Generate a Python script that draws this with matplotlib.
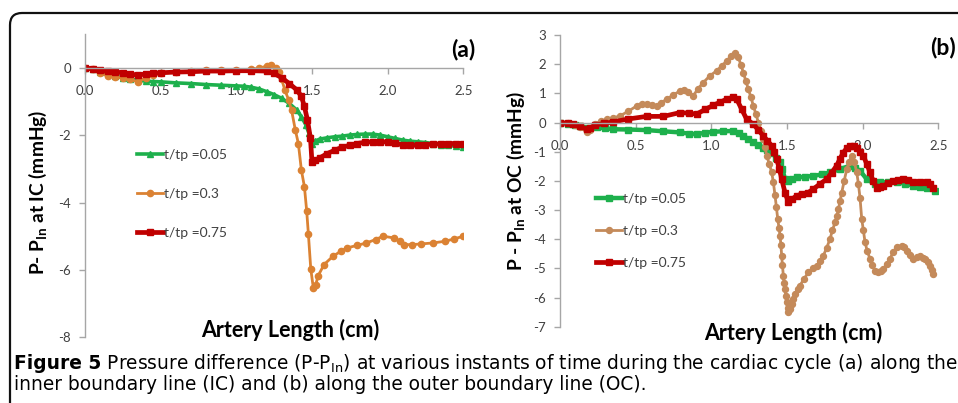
import matplotlib
matplotlib.use("Agg")
import matplotlib.pyplot as plt
from matplotlib.patches import FancyBboxPatch
from matplotlib.transforms import IdentityTransform

# ---------------- data ----------------
x_ticks = [0.0, 0.5, 1.0, 1.5, 2.0, 2.5]
x_ticklabels = ["0.0", "0.5", "1.0", "1.5", "2.0", "2.5"]
a_yticks = [-8, -6, -4, -2, 0]
b_yticks = [-7, -6, -5, -4, -3, -2, -1, 0, 1, 2, 3]
labels = ["t/tp =0.05", "t/tp =0.3", "t/tp =0.75"]

# Panel (a): inner boundary line (IC)
a_x_005 = [0, 0.05, 0.1, 0.15, 0.2, 0.25, 0.3, 0.35, 0.4, 0.45, 0.5, 0.6, 0.7, 0.8, 0.9, 1.0,
           1.05, 1.1, 1.15, 1.2, 1.25, 1.3, 1.35, 1.4, 1.43, 1.46, 1.48, 1.5, 1.52, 1.55, 1.6,
           1.65, 1.7, 1.75, 1.8, 1.85, 1.9, 1.95, 2.0, 2.05, 2.1, 2.15, 2.2, 2.25, 2.3, 2.35,
           2.4, 2.45, 2.5]
a_y_005 = [0, -0.05, -0.12, -0.2, -0.25, -0.3, -0.33, -0.37, -0.4, -0.41, -0.42, -0.45, -0.47,
           -0.5, -0.52, -0.54, -0.55, -0.58, -0.63, -0.71, -0.8, -0.91, -1.06, -1.26, -1.45,
           -1.7, -1.95, -2.25, -2.18, -2.12, -2.08, -2.05, -2.03, -2.0, -1.98, -1.97, -1.97,
           -2.0, -2.05, -2.1, -2.15, -2.18, -2.2, -2.22, -2.25, -2.28, -2.3, -2.33, -2.35]

a_x_03 = [0, 0.05, 0.1, 0.15, 0.2, 0.25, 0.3, 0.35, 0.4, 0.45, 0.5, 0.6, 0.7, 0.8, 0.9, 1.0,
          1.1, 1.15, 1.2, 1.23, 1.26, 1.28, 1.30, 1.32, 1.345, 1.365, 1.39, 1.41, 1.43, 1.45,
          1.465, 1.476, 1.492, 1.509, 1.525, 1.54, 1.58, 1.64, 1.69, 1.73, 1.8, 1.86, 1.92,
          1.97, 2.04, 2.08, 2.11, 2.16, 2.22, 2.3, 2.38, 2.44, 2.5]
a_y_03 = [0, -0.05, -0.15, -0.25, -0.28, -0.3, -0.35, -0.42, -0.3, -0.22, -0.17, -0.13, -0.1,
          -0.08, -0.07, -0.07, -0.04, -0.02, 0.05, 0.08, 0.0, -0.12, -0.35, -0.65, -0.95,
          -1.26, -1.85, -2.25, -3.04, -3.53, -4.25, -4.92, -5.97, -6.54, -6.44, -6.18, -5.84,
          -5.59, -5.45, -5.35, -5.27, -5.2, -5.1, -5.0, -5.05, -5.15, -5.25, -5.25, -5.23,
          -5.2, -5.15, -5.08, -5.0]

a_x_075 = [0, 0.05, 0.1, 0.15, 0.2, 0.25, 0.3, 0.35, 0.4, 0.45, 0.5, 0.6, 0.7, 0.8, 0.9, 1.0,
           1.1, 1.2, 1.25, 1.3, 1.35, 1.4, 1.43, 1.45, 1.47, 1.49, 1.5, 1.52, 1.55, 1.6, 1.65,
           1.7, 1.75, 1.8, 1.85, 1.9, 1.95, 2.0, 2.05, 2.1, 2.15, 2.2, 2.25, 2.3, 2.35, 2.4,
           2.45, 2.5]
a_y_075 = [0, -0.04, -0.08, -0.11, -0.13, -0.15, -0.18, -0.23, -0.18, -0.16, -0.15, -0.13,
           -0.12, -0.1, -0.1, -0.09, -0.09, -0.1, -0.17, -0.3, -0.47, -0.66, -0.85, -1.15,
           -1.55, -2.1, -2.8, -2.75, -2.68, -2.55, -2.45, -2.36, -2.3, -2.25, -2.21, -2.2,
           -2.2, -2.2, -2.23, -2.3, -2.3, -2.3, -2.28, -2.27, -2.26, -2.25, -2.25, -2.25]

# Panel (b): outer boundary line (OC)
b_x_005 = [0, 0.05, 0.1, 0.132, 0.176, 0.242, 0.3, 0.352, 0.45, 0.573, 0.68, 0.793, 0.85,
           0.903, 0.96, 1.013, 1.08, 1.146, 1.18, 1.212, 1.245, 1.278, 1.31, 1.344, 1.37,
           1.399, 1.43, 1.454, 1.47, 1.487, 1.509, 1.535, 1.564, 1.62, 1.674, 1.73, 1.784,
           1.85, 1.916, 1.95, 1.983, 2.027, 2.082, 2.115, 2.17, 2.225, 2.28, 2.335, 2.38,
           2.423, 2.478]
b_y_005 = [0, -0.04, -0.08, -0.11, -0.2, -0.17, -0.2, -0.23, -0.24, -0.26, -0.3, -0.34,
           -0.38, -0.4, -0.35, -0.32, -0.3, -0.29, -0.35, -0.46, -0.57, -0.68, -0.77, -0.86,
           -0.95, -1.03, -1.2, -1.37, -1.6, -1.94, -2.0, -1.93, -1.88, -1.86, -1.83, -1.78,
           -1.71, -1.6, -1.48, -1.55, -1.66, -1.94, -2.11, -2.05, -2.05, -2.05, -2.1, -2.17,
           -2.2, -2.23, -2.34]

b_x_03 = [0, 0.05, 0.1, 0.13, 0.176, 0.2, 0.231, 0.27, 0.308, 0.35, 0.397, 0.45, 0.507, 0.54,
          0.573, 0.61, 0.639, 0.67, 0.705, 0.75, 0.793, 0.82, 0.848, 0.881, 0.91, 0.947, 0.99,
          1.035, 1.07, 1.102, 1.13, 1.157, 1.179, 1.195, 1.212, 1.228, 1.245, 1.262, 1.278,
          1.295, 1.311, 1.328, 1.344, 1.355, 1.366, 1.383, 1.399, 1.41, 1.421, 1.43, 1.439,
          1.447, 1.454, 1.46, 1.465, 1.47, 1.476, 1.481, 1.487, 1.492, 1.498, 1.504, 1.509,
          1.52, 1.531, 1.542, 1.553, 1.57, 1.586, 1.61, 1.641, 1.67, 1.696, 1.72, 1.74,
          1.762, 1.784, 1.80, 1.818, 1.83, 1.84, 1.85, 1.862, 1.878, 1.895, 1.91, 1.928,
          1.945, 1.961, 1.972, 1.983, 1.994, 2.005, 2.016, 2.03, 2.049, 2.065, 2.082, 2.104,
          2.12, 2.137, 2.16, 2.181, 2.2, 2.225, 2.258, 2.275, 2.291, 2.31, 2.335, 2.36, 2.379,
          2.4, 2.412, 2.43, 2.445, 2.457, 2.467]
b_y_03 = [0, -0.03, -0.1, -0.17, -0.32, -0.25, -0.06, 0.05, 0.11, 0.15, 0.23, 0.38, 0.57,
          0.62, 0.63, 0.6, 0.55, 0.68, 0.8, 0.95, 1.08, 1.1, 1.03, 0.91, 1.15, 1.37, 1.6,
          1.77, 1.95, 2.11, 2.28, 2.4, 2.23, 1.98, 1.71, 1.42, 1.14, 0.86, 0.57, 0.28, 0.0,
          -0.28, -0.57, -0.85, -1.14, -1.42, -1.71, -2.05, -2.5, -2.9, -3.31, -3.6, -3.88,
          -4.2, -4.57, -4.9, -5.25, -5.5, -5.71, -5.95, -6.16, -6.35, -6.51, -6.4, -6.22,
          -6.05, -5.88, -5.72, -5.59, -5.38, -5.14, -5.0, -4.91, -4.75, -4.57, -4.3, -4.0,
          -3.7, -3.42, -3.2, -2.97, -2.7, -2.4, -2.0, -1.6, -1.35, -1.14, -1.35, -1.71, -2.1,
          -2.6, -3.31, -3.7, -4.11, -4.4, -4.68, -4.9, -5.08, -5.14, -5.1, -5.02, -4.85,
          -4.68, -4.45, -4.28, -4.22, -4.28, -4.39, -4.55, -4.68, -4.62, -4.59, -4.63, -4.68,
          -4.78, -4.91, -5.05, -5.2]

b_x_075 = [0, 0.05, 0.088, 0.13, 0.176, 0.2, 0.231, 0.29, 0.352, 0.45, 0.573, 0.683, 0.793,
           0.85, 0.903, 0.96, 1.013, 1.06, 1.102, 1.146, 1.168, 1.2, 1.234, 1.278, 1.31,
           1.344, 1.37, 1.399, 1.415, 1.432, 1.45, 1.465, 1.487, 1.509, 1.535, 1.564, 1.6,
           1.641, 1.674, 1.72, 1.762, 1.795, 1.828, 1.85, 1.872, 1.895, 1.916, 1.94, 1.961,
           1.983, 2.005, 2.027, 2.049, 2.07, 2.093, 2.115, 2.137, 2.17, 2.203, 2.235, 2.269,
           2.3, 2.335, 2.38, 2.423, 2.445, 2.467]
b_y_075 = [0, -0.03, -0.06, -0.12, -0.23, -0.18, -0.09, -0.03, 0.02, 0.12, 0.21, 0.21, 0.34,
           0.32, 0.29, 0.45, 0.59, 0.7, 0.8, 0.86, 0.8, 0.46, 0.11, -0.06, -0.25, -0.46,
           -0.62, -0.8, -1.0, -1.26, -1.6, -1.94, -2.4, -2.74, -2.62, -2.51, -2.45, -2.4,
           -2.28, -2.1, -1.94, -1.72, -1.48, -1.25, -1.03, -0.88, -0.8, -0.8, -0.86, -1.0,
           -1.14, -1.42, -1.71, -2.0, -2.23, -2.2, -2.17, -2.08, -2.0, -1.97, -1.94, -1.98,
           -2.03, -2.05, -2.05, -2.1, -2.23]

# ---------------- style ----------------
plt.rcParams['font.family'] = ['Lato', 'DejaVu Sans']
plt.rcParams['axes.unicode_minus'] = False

GREEN = '#1DB04C'
RED = '#C00000'
ORANGE = '#DB8233'
BROWN = '#C48A5A'
AXIS = '#A6A6A6'
TXT = '#404040'

W, H = 958, 403
fig = plt.figure(figsize=(W / 100, H / 100), dpi=100)

# rounded border of the figure panel
border = FancyBboxPatch((10, -20), 1000, H - 13 + 20, boxstyle="round,pad=0,rounding_size=12",
                        transform=IdentityTransform(), fill=False, edgecolor='#111111',
                        linewidth=1.6)
fig.add_artist(border)

axA = fig.add_axes([85 / W, 1 - 337.3 / H, 378.3 / W, 303.3 / H])
axB = fig.add_axes([560 / W, 1 - 326.7 / H, 378.3 / W, 291.7 / H])


def style(ax, ylim, yticks):
    ax.set_xlim(0, 2.5)
    ax.set_ylim(*ylim)
    ax.patch.set_alpha(0)
    for s in ['top', 'right']:
        ax.spines[s].set_visible(False)
    ax.spines['bottom'].set_position(('data', 0))
    for s in ['bottom', 'left']:
        ax.spines[s].set_color(AXIS)
        ax.spines[s].set_linewidth(1.0)
    ax.set_xticks(x_ticks)
    ax.set_xticklabels(x_ticklabels)
    ax.set_yticks(yticks)
    ax.set_yticklabels([str(v) for v in yticks])
    ax.tick_params(axis='x', direction='out', length=4, width=1, color=AXIS, pad=8.5,
                   labelsize=9.5, labelcolor=TXT)
    ax.tick_params(axis='y', direction='out', length=4, width=1, color=AXIS, pad=6,
                   labelsize=9.5, labelcolor=TXT)


style(axA, (-8, 1), a_yticks)
style(axB, (-7, 3), b_yticks)

axA.plot(a_x_005, a_y_005, color=GREEN, lw=2.6, marker='^', ms=4, mec=GREEN, label=labels[0])
axA.plot(a_x_03, a_y_03, color=ORANGE, lw=2.0, marker='o', ms=4.5, mec=ORANGE, label=labels[1])
axA.plot(a_x_075, a_y_075, color=RED, lw=3.4, marker='s', ms=4.2, mec=RED, label=labels[2])

axB.plot(b_x_005, b_y_005, color=GREEN, lw=3.2, marker='s', ms=3.8, mec=GREEN, label=labels[0])
axB.plot(b_x_03, b_y_03, color=BROWN, lw=2.0, marker='o', ms=4.3, mec=BROWN, label=labels[1])
axB.plot(b_x_075, b_y_075, color=RED, lw=3.4, marker='s', ms=4.2, mec=RED, label=labels[2])

legA = axA.legend(loc='upper left', bbox_to_anchor=(137 / W, 1 - 149 / H),
                  bbox_transform=fig.transFigure, frameon=False, fontsize=10,
                  handlelength=1.9, handletextpad=0.05, labelspacing=1.95, borderpad=0,
                  borderaxespad=0)
legB = axB.legend(loc='upper left', bbox_to_anchor=(596 / W, 1 - 193 / H),
                  bbox_transform=fig.transFigure, frameon=False, fontsize=10,
                  handlelength=1.9, handletextpad=0.05, labelspacing=1.45, borderpad=0,
                  borderaxespad=0)
for leg in (legA, legB):
    for t in leg.get_texts():
        t.set_color(TXT)

# axis titles
axA.set_xlabel("Artery Length (cm)", fontsize=15.5, fontweight='bold', va='center')
axA.xaxis.set_label_coords(0.542, 0.024)
axB.set_xlabel("Artery Length (cm)", fontsize=15.5, fontweight='bold', va='center')
axB.xaxis.set_label_coords(0.616, -0.022)
axA.set_ylabel(r"P- $\mathregular{P_{In}}$ at IC (mmHg)", fontsize=13.8, fontweight='bold',
               va='center')
axA.yaxis.set_label_coords(-0.124, 0.479)
axB.set_ylabel(r"P - $\mathregular{P_{In}}$ at OC (mmHg)", fontsize=13.8, fontweight='bold',
               va='center')
axB.yaxis.set_label_coords(-0.116, 0.498)

fig.text(463 / W, 1 - 49 / H, "(a)", fontsize=16.5, fontweight='bold', ha='center', va='center')
fig.text(943 / W, 1 - 48 / H, "(b)", fontsize=16.5, fontweight='bold', ha='center', va='center')

# caption
cap_font = ['DejaVu Sans']
cap_bold = "Figure 5"
cap_rest1 = r" Pressure difference (P-$\mathregular{P_{In}}$) at various instants of time during the cardiac cycle (a) along the"
cap_line2 = "inner boundary line (IC) and (b) along the outer boundary line (OC)."

renderer = fig.canvas.get_renderer()
fs = 12
t1 = fig.text(14 / W, 1 - 369 / H, cap_bold, fontsize=fs, fontweight='bold', family=cap_font,
              va='baseline')
t2 = fig.text(0, 1 - 369 / H, cap_rest1, fontsize=fs, family=cap_font, va='baseline')
w = t1.get_window_extent(renderer).width + t2.get_window_extent(renderer).width
fs = fs * 940 / w
t1.set_fontsize(fs)
t2.set_fontsize(fs)
b1 = t1.get_window_extent(renderer)
t2.set_x(b1.x1 / W)
fig.text(14 / W, 1 - 390 / H, cap_line2, fontsize=fs, family=cap_font, va='baseline')

fig.savefig("out.png", dpi=100)
